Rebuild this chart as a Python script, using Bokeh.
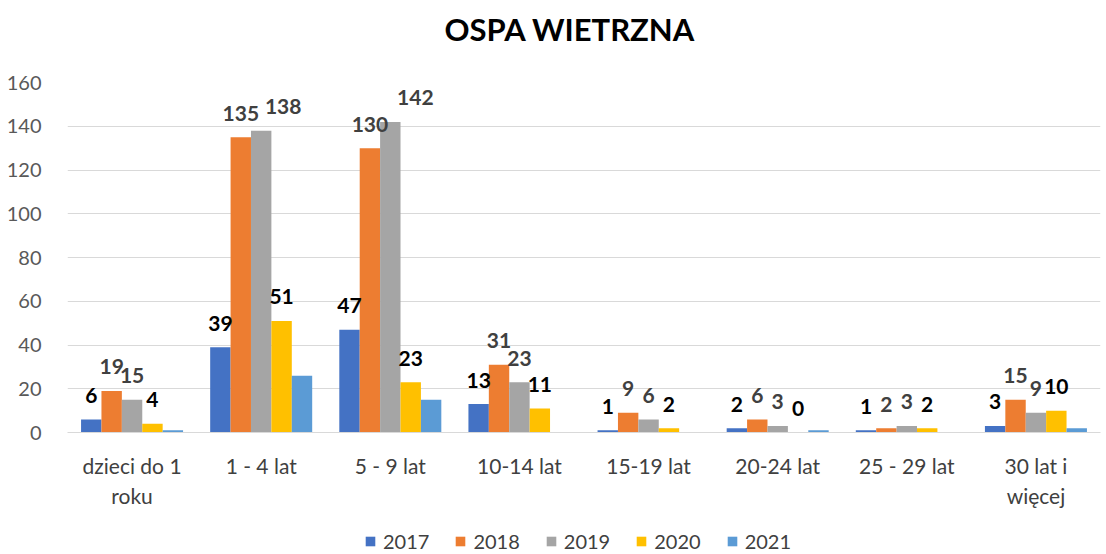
from bokeh.plotting import figure
from bokeh.layouts import column
from bokeh.models import ColumnDataSource, Legend, LegendItem, FactorRange, SingleIntervalTicker, Range1d
from bokeh.transform import dodge
from bokeh.core.properties import value
from bokeh.embed import file_html
from bokeh.resources import INLINE

title_text = "OSPA WIETRZNA"
categories = ["dzieci do 1\nroku", "1 - 4 lat", "5 - 9 lat", "10-14 lat", "15-19 lat", "20-24 lat", "25 - 29 lat", "30 lat i\nwięcej"]
years = ["2017", "2018", "2019", "2020", "2021"]
v2017 = [6, 39, 47, 13, 1, 2, 1, 3]
v2018 = [19, 135, 130, 31, 9, 6, 2, 15]
v2019 = [15, 138, 142, 23, 6, 3, 3, 9]
v2020 = [4, 51, 23, 11, 2, 0, 2, 10]
v2021 = [1, 26, 15, 0, 0, 1, 0, 2]
series = [v2017, v2018, v2019, v2020, v2021]
colors = ["#4472C4", "#ED7D31", "#A5A5A5", "#FFC000", "#5B9BD5"]
label_colors = ["#000000", "#404040", "#404040", "#000000", None]
# data-label nudges (px) where labels would collide, as in the original
label_nudge = {("2019", "1 - 4 lat"): 22, ("2019", "5 - 9 lat"): 25}

FONT = "Lato"
W = 1106
TITLE_H = 56

# title strip
p0 = figure(width=W, height=TITLE_H, output_backend="svg", toolbar_location=None,
            x_range=Range1d(0, W), y_range=Range1d(0, TITLE_H), min_border=0)
p0.outline_line_color = None
p0.axis.visible = False
p0.grid.visible = False
p0.text(x=[538], y=[TITLE_H - 28], text=[title_text], text_font=value(FONT), text_font_size="31px",
        text_font_style="bold", text_color="#000000", text_align="center", text_baseline="middle")

p = figure(x_range=FactorRange(*categories), y_range=(0, 160), width=W, height=528 - TITLE_H,
           output_backend="svg", toolbar_location=None,
           min_border_left=67, min_border_right=6, min_border_top=82 - TITLE_H, min_border_bottom=96)
p.outline_line_color = None
p.background_fill_color = "white"
p.border_fill_color = "white"

data = dict(cat=categories)
for y, s in zip(years, series):
    data[y] = s
    data["lbl" + y] = [str(v) for v in s]
    data["dx" + y] = [label_nudge.get((y, c), 0) for c in categories]
src = ColumnDataSource(data)

width = 0.158
offsets = [-2 * width, -width, 0, width, 2 * width]
for y, c, off in zip(years, colors, offsets):
    p.vbar(x=dodge("cat", off, range=p.x_range), top=y, width=width, source=src,
           fill_color=c, line_color=None)
for y, off, lc in zip(years, offsets, label_colors):
    if lc:
        p.text(x=dodge("cat", off, range=p.x_range), y=y, text="lbl" + y, source=src,
               text_font=value(FONT), text_font_size="21px", text_font_style="bold",
               text_color=lc, text_align="center", text_baseline="middle",
               x_offset="dx" + y, y_offset=-24)

p.yaxis.ticker = SingleIntervalTicker(interval=20)
p.yaxis.axis_line_color = None
p.yaxis.major_tick_line_color = None
p.yaxis.minor_tick_line_color = None
p.yaxis.major_label_text_font = FONT
p.yaxis.major_label_text_font_size = "20px"
p.yaxis.major_label_text_color = "#595959"
p.yaxis.major_label_standoff = 20

p.xaxis.axis_line_color = "#D9D9D9"
p.xaxis.major_tick_line_color = None
p.xaxis.minor_tick_line_color = None
p.xaxis.major_label_text_font = FONT
p.xaxis.major_label_text_font_size = "21px"
p.xaxis.major_label_text_color = "#404040"
p.xaxis.major_label_standoff = 14

p.xgrid.grid_line_color = None
p.ygrid.grid_line_color = "#D9D9D9"
p.ygrid.grid_line_width = 1

# legend strip (swatch renderers sit outside the visible range; only their legend glyphs show)
p2 = figure(width=W, height=26, output_backend="svg", toolbar_location=None,
            x_range=Range1d(0, 1), y_range=Range1d(0, 1), min_border=0)
p2.outline_line_color = None
p2.axis.visible = False
p2.grid.visible = False
items = []
for y, c in zip(years, colors):
    r = p2.vbar(x=[-10], top=[-10], width=0.1, fill_color=c, line_color=None)
    items.append(LegendItem(label=y, renderers=[r]))
legend = Legend(items=items, orientation="horizontal", location=(297, 1))
legend.label_text_font = FONT
legend.label_text_font_size = "20px"
legend.label_text_color = "#404040"
legend.glyph_width = 12
legend.glyph_height = 12
legend.spacing = 25
legend.label_standoff = 7
legend.border_line_color = None
legend.background_fill_alpha = 0
legend.margin = 0
legend.padding = 0
p2.add_layout(legend)

open("out.html", "w").write(file_html(column(p0, p, p2, spacing=0), INLINE))
